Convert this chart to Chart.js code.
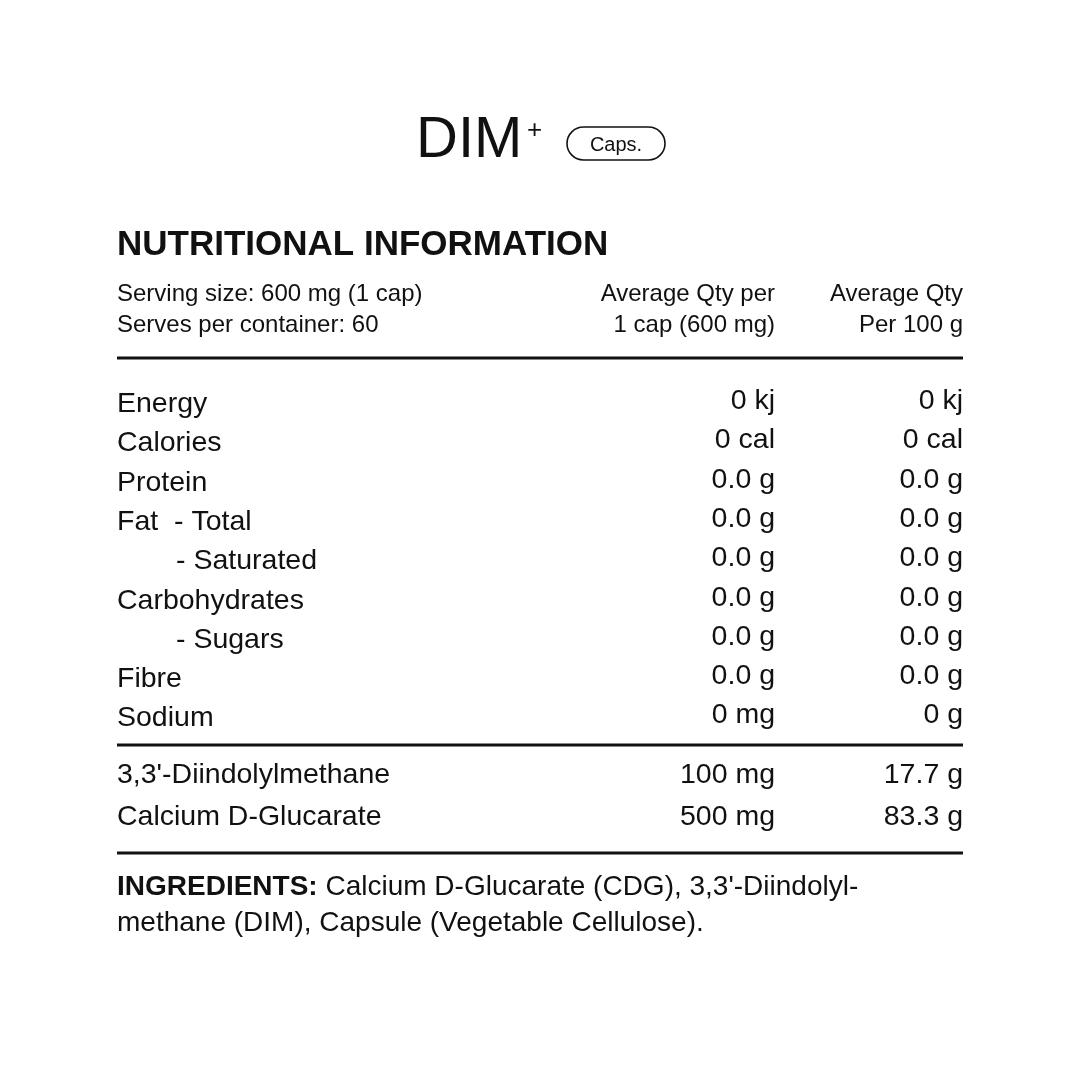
<!DOCTYPE html>
<html><head><meta charset="utf-8">
<script src="https://cdn.jsdelivr.net/npm/chart.js@4"></script>
<style>html,body{margin:0;background:#fff}#c{display:block}</style>
</head><body>
<canvas id="c" width="1080" height="1080"></canvas>
<script>
const nutrients = ["Energy","Calories","Protein","Fat  - Total","- Saturated","Carbohydrates","- Sugars","Fibre","Sodium"];
const indented = [false,false,false,false,true,false,true,false,false];
const perServe = ["0 kj","0 cal","0.0 g","0.0 g","0.0 g","0.0 g","0.0 g","0.0 g","0 mg"];
const per100 = ["0 kj","0 cal","0.0 g","0.0 g","0.0 g","0.0 g","0.0 g","0.0 g","0 g"];
const actives = ["3,3'-Diindolylmethane","Calcium D-Glucarate"];
const activeServe = ["100 mg","500 mg"];
const active100 = ["17.7 g","83.3 g"];
const F = '"Liberation Sans", Arial, sans-serif';

const tablePlugin = {
  id:'table',
  afterDraw(chart){
    const c = chart.ctx, X = chart.scales.x, Y = chart.scales.y;
    const px = v => X.getPixelForValue(v), py = v => Y.getPixelForValue(v);
    c.save(); c.fillStyle='#111'; c.strokeStyle='#111'; c.textBaseline='alphabetic';
    const txt=(s,x,y,size,align='left',w='normal')=>{c.font=`${w} ${size}px ${F}`;c.textAlign=align;c.fillText(s,px(x),py(y));};
    txt("DIM",416,157,58);
    txt("+",527,138,26);
    c.lineWidth=1.6; c.beginPath(); c.roundRect(px(567),py(127),98,33,16.5); c.stroke();
    txt("Caps.",616,151,20,'center');
    txt("NUTRITIONAL INFORMATION",117,255,35,'left','bold');
    txt("Serving size: 600 mg (1 cap)",117,301,24);
    txt("Serves per container: 60",117,332,24);
    txt("Average Qty per",775,301,24,'right');
    txt("1 cap (600 mg)",775,332,24,'right');
    txt("Average Qty",963,301,24,'right');
    txt("Per 100 g",963,332,24,'right');
    const hl=y=>{c.lineWidth=3;c.beginPath();c.moveTo(px(117),py(y));c.lineTo(px(963),py(y));c.stroke();};
    hl(358); hl(745); hl(853);
    nutrients.forEach((n,i)=>{
      const y=412+i*39.3;
      txt(n,indented[i]?176:117,y,28.5);
      txt(perServe[i],775,y-3,28.5,'right');
      txt(per100[i],963,y-3,28.5,'right');
    });
    actives.forEach((n,i)=>{
      const y=783+i*42;
      txt(n,117,y,28.5); txt(activeServe[i],775,y,28.5,'right'); txt(active100[i],963,y,28.5,'right');
    });
    c.font=`bold 28px ${F}`; c.textAlign='left'; c.fillText("INGREDIENTS:",px(117),py(895));
    const w=c.measureText("INGREDIENTS:").width;
    c.font=`normal 28px ${F}`;
    c.fillText(" Calcium D-Glucarate (CDG), 3,3'-Diindolyl-",px(117)+w,py(895));
    txt("methane (DIM), Capsule (Vegetable Cellulose).",117,931,28);
    c.restore();
  }
};
new Chart(document.getElementById('c'),{
  type:'scatter',
  data:{datasets:[{data:[],pointRadius:0}]},
  options:{responsive:false,animation:false,devicePixelRatio:1,layout:{padding:0},
    plugins:{legend:{display:false},tooltip:{enabled:false}},
    scales:{x:{type:'linear',min:0,max:1080,display:false},y:{type:'linear',min:0,max:1080,reverse:true,display:false}}},
  plugins:[tablePlugin]
});
</script></body></html>
